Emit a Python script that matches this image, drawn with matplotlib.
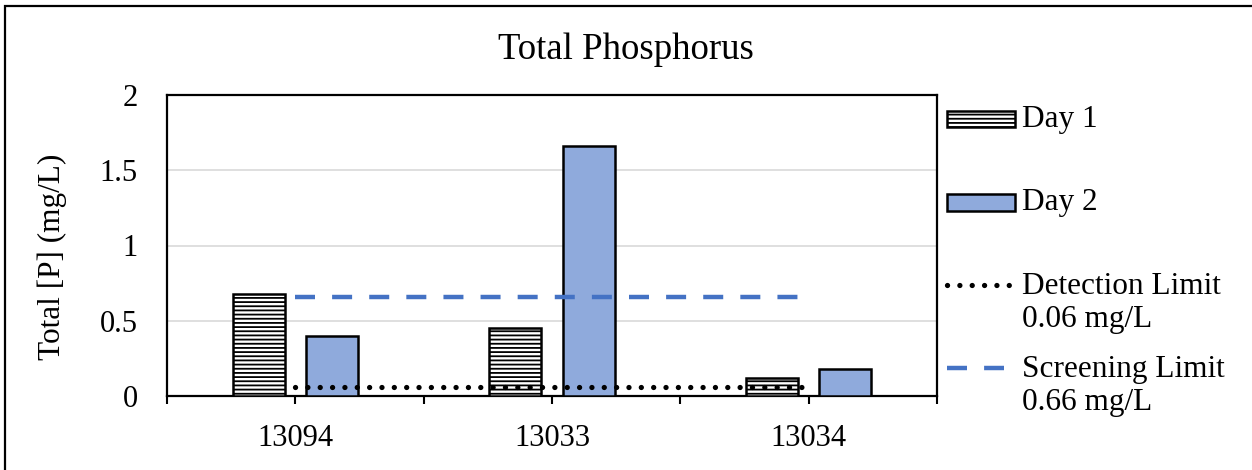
import matplotlib
matplotlib.use("Agg")
import matplotlib.pyplot as plt
from matplotlib.patches import Rectangle
from matplotlib.lines import Line2D
import numpy as np

categories = ['13094', '13033', '13034']
day1 = [0.68, 0.45, 0.12]
day2 = [0.40, 1.66, 0.18]
detection_limit = 0.06
screening_limit = 0.66
y_ticks = [0, 0.5, 1, 1.5, 2]
y_tick_labels = ['0', '0.5', '1', '1.5', '2']
legend_labels = ['Day 1', 'Day 2', 'Detection Limit\n0.06 mg/L', 'Screening Limit\n0.66 mg/L']

plt.rcParams['font.family'] = ['Liberation Serif', 'DejaVu Serif']
plt.rcParams['hatch.linewidth'] = 1.3

W, H = 1252, 470
fig = plt.figure(figsize=(W / 100, H / 100), dpi=100)

def fx(x):
    return x / W

def fy(y):
    return 1 - y / H

DAY2_COLOR = '#8FAADC'
SCREEN_COLOR = '#4472C4'

ax = fig.add_axes([fx(167), fy(396), fx(937) - fx(167), fy(95) - fy(396)])
x = np.arange(len(categories))
bw = 0.203
off = 0.143
ax.bar(x - off, day1, bw, facecolor='white', edgecolor='black', hatch='----', linewidth=1.8, zorder=3)
ax.bar(x + off, day2, bw, facecolor=DAY2_COLOR, edgecolor='black', linewidth=1.8, zorder=3)

xl = [x[0], x[-1]]
ax.plot(xl, [detection_limit] * 2, color='black', linewidth=3.8,
        linestyle=(0, (0.01, 2.33)), dash_capstyle='round', zorder=4)
ax.plot(xl, [screening_limit] * 2, color=SCREEN_COLOR, linewidth=3.2,
        linestyle=(0, (4.5, 3.85)), zorder=4)

ax.set_xlim(-0.5, len(categories) - 0.5)
ax.set_ylim(0, 2)
ax.set_yticks(y_ticks)
ax.set_yticklabels(y_tick_labels, fontsize=22)
ax.set_xticks(np.arange(-0.5, len(categories), 0.5))
labels = []
for t in np.arange(-0.5, len(categories), 0.5):
    labels.append(categories[int(t)] if float(t).is_integer() else '')
ax.set_xticklabels(labels, fontsize=22)
ax.tick_params(axis='x', direction='out', length=6, width=1.5, pad=14)
ax.tick_params(axis='y', length=0, pad=21)
ax.grid(axis='y', color='#D9D9D9', linewidth=1.2, zorder=0)
ax.set_axisbelow(True)
for s in ax.spines.values():
    s.set_linewidth(1.6)
    s.set_color('black')

fig.text(0.5, fy(50), 'Total Phosphorus', ha='center', va='center', fontsize=26.5)
fig.text(fx(52), fy(257), 'Total [P] (mg/L)', ha='center', va='center', rotation=90, fontsize=22.5)

# outer border (left & top visible)
fig.patches.append(Rectangle((fx(5), -0.1), 2, fy(6) + 0.1, transform=fig.transFigure,
                             fill=False, edgecolor='black', linewidth=1.6))

# manual legend
fig.patches.append(Rectangle((fx(947), fy(127)), fx(1015) - fx(947), fy(111) - fy(127),
                             transform=fig.transFigure, facecolor='white', edgecolor='black',
                             hatch='----', linewidth=1.8))
fig.patches.append(Rectangle((fx(947), fy(211)), fx(1015) - fx(947), fy(194) - fy(211),
                             transform=fig.transFigure, facecolor=DAY2_COLOR, edgecolor='black',
                             linewidth=1.8))
fig.lines.append(Line2D([fx(947), fx(1013)], [fy(285), fy(285)], transform=fig.transFigure,
                        color='black', linewidth=3.8, linestyle=(0, (0.01, 2.33)), dash_capstyle='round'))
fig.lines.append(Line2D([fx(947), fx(1004)], [fy(368), fy(368)], transform=fig.transFigure,
                        color=SCREEN_COLOR, linewidth=3.2, linestyle=(0, (4.5, 3.85))))
fig.text(fx(1022), fy(119), legend_labels[0], ha='left', va='center', fontsize=22.5)
fig.text(fx(1022), fy(202), legend_labels[1], ha='left', va='center', fontsize=22.5)
fig.text(fx(1022), fy(303), legend_labels[2], ha='left', va='center', fontsize=22.5, linespacing=1.22)
fig.text(fx(1022), fy(386), legend_labels[3], ha='left', va='center', fontsize=22.5, linespacing=1.22)

fig.savefig('out.png', dpi=100)
